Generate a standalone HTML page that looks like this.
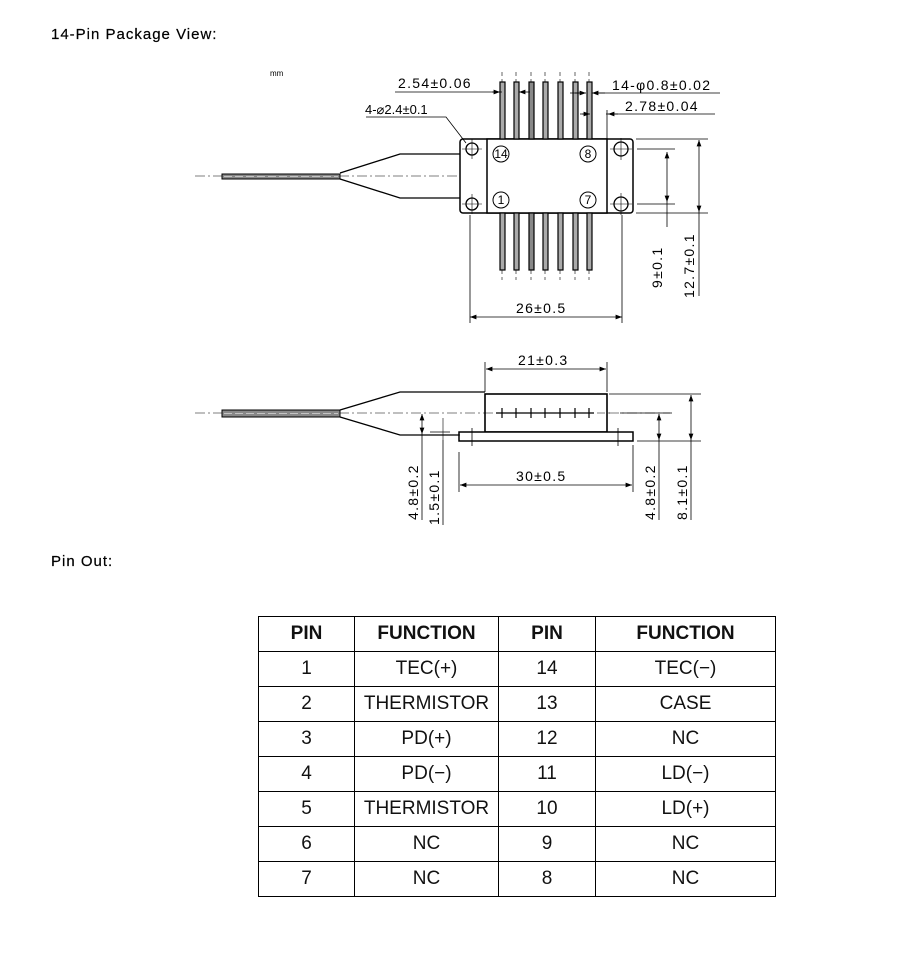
<!DOCTYPE html>
<html><head><meta charset="utf-8"><style>
body{margin:0;background:#fff;width:898px;height:964px;overflow:hidden;font-family:"Liberation Sans",sans-serif}
.t{position:absolute;left:51px;font-size:15px;letter-spacing:1px;color:#000;-webkit-text-stroke:0.2px #000}
table{position:absolute;left:258px;top:616px;border-collapse:collapse;font-family:"Liberation Sans Narrow","Liberation Sans",sans-serif}
td{border:1.5px solid #000;text-align:center;font-size:19px;height:33px;padding:0;color:#111}
tr:first-child td{font-weight:bold;height:34px}
.d{letter-spacing:1.3px}
</style></head><body>
<div class="t" style="top:26px">14-Pin Package View:</div>
<div class="t" style="top:553px">Pin Out:</div>
<svg width="898" height="600" style="position:absolute;left:0;top:0" font-family="Liberation Sans,sans-serif" font-size="13">
<defs><marker id="a" markerWidth="8" markerHeight="6" refX="8" refY="3" orient="auto-start-reverse"><path d="M0,0L8,3L0,6z" fill="#000"/></marker></defs>
<g stroke="#000" fill="none">
<text x="270" y="76" font-size="8" fill="#000" stroke="none">mm</text>
<line x1="195" y1="176" x2="487" y2="176" stroke-width="0.6" stroke-dasharray="10,3,2,3"/>
<rect x="222" y="174" width="118" height="5" fill="#888" stroke-width="1"/>
<line x1="224" y1="176.5" x2="338" y2="176.5" stroke="#fff" stroke-width="0.6" stroke-dasharray="8,3"/>
<path d="M340,173L400,154H487M340,179L400,198H487" stroke-width="1.3"/>
<rect x="460" y="139" width="173" height="74" rx="3" fill="#fff" stroke-width="1.5"/>
<rect x="487" y="139" width="120" height="74" fill="#fff" stroke-width="1.5"/>
<g stroke-width="1.3"><circle cx="472" cy="149" r="6"/><circle cx="472" cy="204" r="6"/><circle cx="621" cy="149" r="7"/><circle cx="621" cy="204" r="7"/></g>
<g stroke-width="0.6"><path d="M462,149h20M472,139v20M462,204h20M472,194v20M610,149h22M621,138v22M610,204h22M621,193v22"/></g>
<g stroke-width="1"><circle cx="501" cy="154" r="8"/><circle cx="588" cy="154" r="8"/><circle cx="501" cy="200" r="8"/><circle cx="588" cy="200" r="8"/></g>
<g fill="#000" stroke="none" font-size="12" text-anchor="middle"><text x="501" y="158">14</text><text x="588" y="158">8</text><text x="501" y="204">1</text><text x="588" y="204">7</text></g>
<g stroke-width="1.2">
<rect x="500" y="82" width="5" height="57" fill="#aaa"/><rect x="514" y="82" width="5" height="57" fill="#aaa"/><rect x="529" y="82" width="5" height="57" fill="#888"/><rect x="543" y="82" width="5" height="57" fill="#aaa"/><rect x="558" y="82" width="5" height="57" fill="#aaa"/><rect x="573" y="82" width="5" height="57" fill="#aaa"/><rect x="587" y="82" width="5" height="57" fill="#aaa"/>
<rect x="500" y="213" width="5" height="57" fill="#aaa"/><rect x="514" y="213" width="5" height="57" fill="#aaa"/><rect x="529" y="213" width="5" height="57" fill="#888"/><rect x="543" y="213" width="5" height="57" fill="#aaa"/><rect x="558" y="213" width="5" height="57" fill="#aaa"/><rect x="573" y="213" width="5" height="57" fill="#aaa"/><rect x="587" y="213" width="5" height="57" fill="#aaa"/>
</g>
<g stroke-width="0.6" stroke-dasharray="4,3"><path d="M502,72v10M516,72v10M531,72v10M545,72v10M560,72v10M575,72v10M589,72v10M502,270v10M516,270v10M531,270v10M545,270v10M560,270v10M575,270v10M589,270v10"/></g>
<g stroke-width="0.8">
<path d="M395,92H502"/><line x1="492" y1="92" x2="500" y2="92" marker-end="url(#a)"/><line x1="530" y1="92" x2="519" y2="92" marker-end="url(#a)"/>
<path d="M570,93H584M598,93H720"/><line x1="575" y1="93" x2="586" y2="93" marker-end="url(#a)"/><line x1="605" y1="93" x2="592" y2="93" marker-end="url(#a)"/>
<path d="M580,114H589M606,114H715M607,110v30"/><line x1="582" y1="114" x2="590" y2="114" marker-end="url(#a)"/><line x1="618" y1="114" x2="608" y2="114" marker-end="url(#a)"/>
<path d="M366,117H446L466,143"/>
<path d="M470,215v108M622,215v108"/><line x1="470" y1="317" x2="622" y2="317" marker-start="url(#a)" marker-end="url(#a)"/>
<path d="M637,149h38M637,204h38M636,139h72M636,213h72"/>
<line x1="667" y1="152" x2="667" y2="202" marker-start="url(#a)" marker-end="url(#a)"/><path d="M667,202v25"/>
<line x1="699" y1="140" x2="699" y2="212" marker-start="url(#a)" marker-end="url(#a)"/><path d="M699,212v84"/>
</g>
<g fill="#000" stroke="none" font-size="14" class="d">
<text x="398" y="88">2.54±0.06</text><text x="612" y="90">14-φ0.8±0.02</text><text x="625" y="111">2.78±0.04</text><text x="365" y="114" font-size="13" letter-spacing="0">4-⌀2.4±0.1</text><text x="516" y="313">26±0.5</text>
<text transform="translate(662,288) rotate(-90)">9±0.1</text><text transform="translate(694,298) rotate(-90)">12.7±0.1</text>
</g>
<line x1="195" y1="413" x2="670" y2="413" stroke-width="0.6" stroke-dasharray="10,3,2,3"/>
<rect x="222" y="410" width="118" height="7" fill="#888" stroke-width="1"/>
<line x1="224" y1="413.5" x2="338" y2="413.5" stroke="#fff" stroke-width="0.6" stroke-dasharray="8,3"/>
<path d="M340,410L400,392H485M340,417L400,435H459" stroke-width="1.3"/>
<rect x="485" y="394" width="122" height="38" fill="#fff" stroke-width="1.6"/>
<rect x="459" y="432" width="174" height="9" fill="#fff" stroke-width="1.5"/>
<g stroke-width="1.2"><path d="M496,413h98M502,408v10M516,408v10M531,408v10M545,408v10M560,408v10M575,408v10M589,408v10"/></g>
<line x1="485" y1="413" x2="612" y2="413" stroke-width="0.6" stroke-dasharray="8,3,2,3"/>
<g stroke-width="0.8">
<path d="M485,362v30M607,362v30"/><line x1="486" y1="369" x2="606" y2="369" marker-start="url(#a)" marker-end="url(#a)"/>
<path d="M459,452v40M633,445v47"/><line x1="460" y1="485" x2="632" y2="485" marker-start="url(#a)" marker-end="url(#a)"/>
<path d="M472,428v18M618,428v18"/>
<path d="M609,394h92M637,441h64M620,413h52"/>
<line x1="659" y1="414" x2="659" y2="440" marker-start="url(#a)" marker-end="url(#a)"/><path d="M659,440v80"/>
<line x1="691" y1="395" x2="691" y2="440" marker-start="url(#a)" marker-end="url(#a)"/><path d="M691,440v80"/>
<path d="M415,435h45M430,432h20"/>
<line x1="422" y1="414" x2="422" y2="434" marker-start="url(#a)" marker-end="url(#a)"/><path d="M422,434v86"/>
<line x1="443" y1="418" x2="443" y2="440" stroke-width="0.6"/><path d="M443,440v85"/>
</g>
<g fill="#000" stroke="none" font-size="14" class="d">
<text x="518" y="365">21±0.3</text><text x="516" y="481">30±0.5</text>
<text transform="translate(418,520) rotate(-90)">4.8±0.2</text><text transform="translate(439,525) rotate(-90)">1.5±0.1</text>
<text transform="translate(655,520) rotate(-90)">4.8±0.2</text><text transform="translate(687,520) rotate(-90)">8.1±0.1</text>
</g>
</g>
</svg>
<table>
<colgroup><col style="width:96px"><col style="width:144px"><col style="width:97px"><col style="width:180px"></colgroup>
<tr><td style="height:34px">PIN</td><td>FUNCTION</td><td>PIN</td><td>FUNCTION</td></tr>
<tr><td style="height:34px">1</td><td>TEC(+)</td><td>14</td><td>TEC(−)</td></tr>
<tr><td style="height:34px">2</td><td>THERMISTOR</td><td>13</td><td>CASE</td></tr>
<tr><td style="height:34px">3</td><td>PD(+)</td><td>12</td><td>NC</td></tr>
<tr><td style="height:34px">4</td><td>PD(−)</td><td>11</td><td>LD(−)</td></tr>
<tr><td style="height:34px">5</td><td>THERMISTOR</td><td>10</td><td>LD(+)</td></tr>
<tr><td style="height:34px">6</td><td>NC</td><td>9</td><td>NC</td></tr>
<tr><td style="height:34px">7</td><td>NC</td><td>8</td><td>NC</td></tr>
</table>
</body></html>
